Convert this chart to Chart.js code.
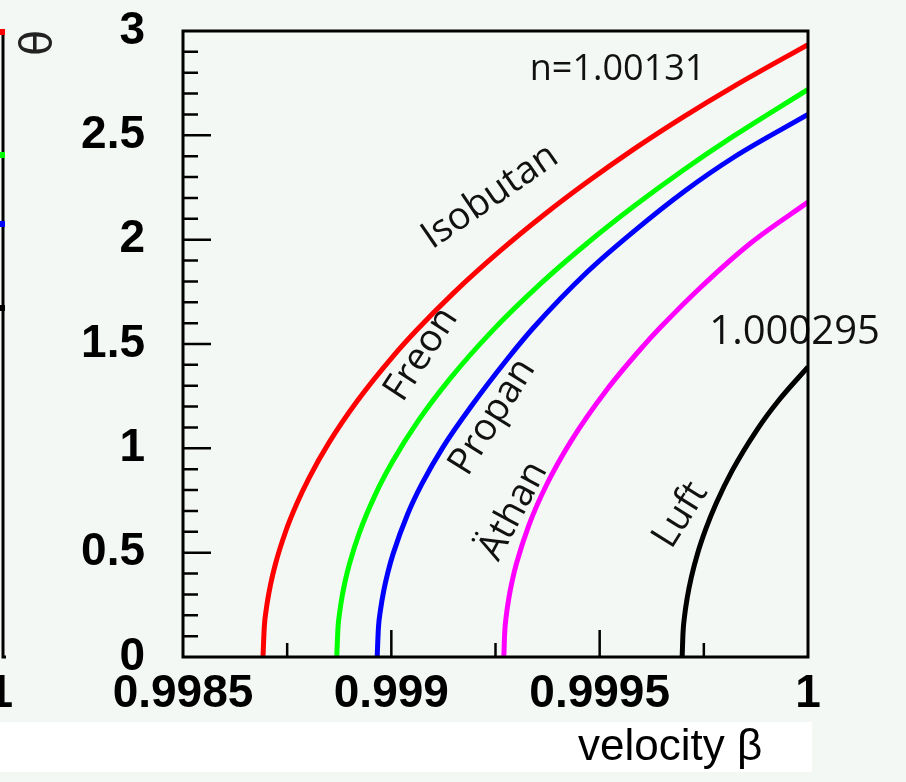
<!DOCTYPE html>
<html><head><meta charset="utf-8">
<script src="https://cdn.jsdelivr.net/npm/chart.js@4"></script>
<style>html,body{margin:0;padding:0;background:#f4f8f5;overflow:hidden}#wrap{width:906px;height:782px}</style>
</head><body><div id="wrap"><canvas id="c" width="906" height="782" style="width:906px;height:782px"></canvas></div>
<script>
// ---- data ----
const xTickValues = [0.9985, 0.999, 0.9995, 1];
const xTickLabels = ['0.9985', '0.999', '0.9995', '1'];
const yTickValues = [0, 0.5, 1, 1.5, 2, 2.5, 3];
const yTickLabels = ['0', '0.5', '1', '1.5', '2', '2.5', '3'];

const seriesNames = ['Isobutan', 'Freon', 'Propan', 'Äthan', 'Luft'];

const isobutanBeta  = [0.998692, 0.998695, 0.998700, 0.998710, 0.998722, 0.998747, 0.998773, 0.998803, 0.998850, 0.998919, 0.999004, 0.999061, 0.999149, 0.999261, 0.999365, 0.999470, 0.999582, 0.999702, 0.999822, 1.0];
const isobutanTheta = [0, 0.141, 0.231, 0.346, 0.447, 0.605, 0.734, 0.860, 1.026, 1.229, 1.441, 1.567, 1.744, 1.946, 2.117, 2.276, 2.434, 2.590, 2.735, 2.935];

const freonBeta  = [0.998869, 0.998872, 0.998876, 0.998882, 0.998890, 0.998900, 0.998923, 0.998961, 0.999004, 0.999064, 0.999141, 0.999245, 0.999357, 0.999470, 0.999582, 0.999702, 0.999822, 1.0];
const freonTheta = [0, 0.140, 0.214, 0.292, 0.371, 0.450, 0.594, 0.776, 0.940, 1.130, 1.334, 1.569, 1.787, 1.983, 2.160, 2.335, 2.497, 2.720];

const propanBeta  = [0.998966, 0.998969, 0.998974, 0.998982, 0.998992, 0.999004, 0.999039, 0.999073, 0.999124, 0.999193, 0.999278, 0.999341, 0.999470, 0.999582, 0.999702, 0.999822, 1.0];
const propanTheta = [0, 0.139, 0.226, 0.320, 0.408, 0.493, 0.684, 0.828, 1.006, 1.205, 1.427, 1.578, 1.845, 2.040, 2.230, 2.395, 2.600];

const athanBeta  = [0.999270, 0.999272, 0.999276, 0.999282, 0.999290, 0.999300, 0.999330, 0.999372, 0.999432, 0.999518, 0.999604, 0.999646, 0.999742, 0.999862, 1.0];
const athanTheta = [0, 0.115, 0.200, 0.282, 0.364, 0.446, 0.631, 0.823, 1.037, 1.283, 1.489, 1.580, 1.771, 1.983, 2.180];

const luftBeta  = [0.999698, 0.999700, 0.999704, 0.999710, 0.999720, 0.999735, 0.999755, 0.999780, 0.999818, 0.999878, 0.999929, 1.0];
const luftTheta = [0, 0.115, 0.200, 0.282, 0.382, 0.496, 0.615, 0.738, 0.893, 1.090, 1.228, 1.390];

const seriesColors = ['#ff0000', '#00ff00', '#0000ff', '#ff00ff', '#000000'];

// ---- build chart ----
function pts(bs, ts) { return bs.map((b, i) => ({x: b, y: ts[i]})); }
const allSeries = [
  pts(isobutanBeta, isobutanTheta),
  pts(freonBeta, freonTheta),
  pts(propanBeta, propanTheta),
  pts(athanBeta, athanTheta),
  pts(luftBeta, luftTheta)
];

const TICK_FONT = {family: 'Liberation Sans', size: 46, weight: 'bold'};
const ANNO_FONT = '38px "Open Sans"';

const refPlugin = {
  id: 'ref',
  beforeDraw(chart) {
    const ctx = chart.ctx;
    ctx.save();
    ctx.fillStyle = '#f4f8f5';
    ctx.fillRect(0, 0, chart.width, chart.height);
    ctx.fillStyle = '#ffffff';
    ctx.fillRect(0, 722, 812, 50);
    ctx.restore();
  },
  afterDatasetsDraw(chart) {
    const ctx = chart.ctx, a = chart.chartArea, xs = chart.scales.x, ys = chart.scales.y;
    ctx.save();
    // annotation texts
    ctx.fillStyle = '#111';
    ctx.textAlign = 'center';
    ctx.textBaseline = 'middle';
    function rot(text, bx, ty, deg, font) {
      ctx.save();
      ctx.translate(xs.getPixelForValue(bx), ys.getPixelForValue(ty));
      ctx.rotate(deg * Math.PI / 180);
      ctx.font = font;
      ctx.fillText(text, 0, 0);
      ctx.restore();
    }
    rot('n=1.00131', 0.999543, 2.813, 0, '36px "Open Sans"');
    rot(seriesNames[0], 0.999237, 2.206, -34.5, ANNO_FONT);
    rot(seriesNames[1], 0.999072, 1.450, -57, ANNO_FONT);
    rot(seriesNames[2], 0.999243, 1.150, -58, ANNO_FONT);
    rot(seriesNames[3], 0.999293, 0.700, -62, ANNO_FONT);
    rot(seriesNames[4], 0.999694, 0.680, -58, ANNO_FONT);
    rot('1.000295', 0.999968, 1.553, 0, '40px "Open Sans"');

    // inward tick marks
    ctx.strokeStyle = '#000';
    ctx.lineWidth = 2.5;
    ctx.beginPath();
    for (let k = 1; k < 6; k++) {
      const px = xs.getPixelForValue(0.9985 + k * 0.00025);
      const len = (k % 2 === 0) ? 27 : 14;
      ctx.moveTo(px, a.bottom); ctx.lineTo(px, a.bottom - len);
    }
    for (let k = 1; k < 30; k++) {
      const py = ys.getPixelForValue(k * 0.1);
      const len = (k % 5 === 0) ? 28 : 15;
      ctx.moveTo(a.left, py); ctx.lineTo(a.left + len, py);
    }
    ctx.stroke();
    // frame
    ctx.lineWidth = 3;
    ctx.strokeRect(a.left, a.top, a.right - a.left, a.bottom - a.top);

    // cut-off neighbouring panel on the left
    ctx.lineWidth = 3;
    ctx.beginPath(); ctx.moveTo(3, 30); ctx.lineTo(3, 657); ctx.lineTo(6, 657); ctx.stroke();
    const dots = [[32, '#ff0000'], [155, '#00ff00'], [224, '#0000ff'], [308, '#000000']];
    dots.forEach(d => { ctx.fillStyle = d[1]; ctx.fillRect(0, d[0] - 3, 5, 6); });
    ctx.fillStyle = '#000';
    ctx.font = 'bold 46px "Liberation Sans"';
    ctx.textAlign = 'right';
    ctx.textBaseline = 'middle';
    ctx.fillText('1', 13, 694);

    // rotated axis title theta
    ctx.save();
    ctx.translate(40, 43);
    ctx.rotate(-Math.PI / 2);
    ctx.font = '42px "DejaVu Sans"';
    ctx.textAlign = 'center';
    ctx.fillStyle = '#222';
    ctx.fillText('θ', 0, 0);
    ctx.restore();

    // x axis title
    ctx.font = '44px "Liberation Sans"';
    ctx.textAlign = 'left';
    ctx.textBaseline = 'alphabetic';
    ctx.fillStyle = '#000';
    ctx.fillText('velocity β', 578, 760);
    ctx.restore();
  }
};

new Chart(document.getElementById('c'), {
  type: 'line',
  data: {
    datasets: allSeries.map((d, i) => ({
      label: seriesNames[i],
      data: d,
      borderColor: seriesColors[i],
      backgroundColor: seriesColors[i],
      borderWidth: 5,
      pointRadius: 0,
      fill: false,
      cubicInterpolationMode: 'monotone'
    }))
  },
  options: {
    responsive: false,
    animation: false,
    devicePixelRatio: 1,
    layout: {padding: {left: 0, top: 31, right: 98, bottom: 0}},
    plugins: {legend: {display: false}, tooltip: {enabled: false}},
    scales: {
      x: {
        type: 'linear', min: 0.9985, max: 1,
        afterBuildTicks: s => { s.ticks = xTickValues.map(v => ({value: v})); },
        afterFit: s => { s.height = 125; s.paddingLeft = 0; s.paddingRight = 0; },
        grid: {display: false, drawTicks: false},
        border: {display: false},
        ticks: {
          callback: (v, i) => xTickLabels[i],
          font: TICK_FONT, color: '#000', padding: 10,
          maxRotation: 0, minRotation: 0, autoSkip: false
        }
      },
      y: {
        type: 'linear', min: 0, max: 3,
        afterBuildTicks: s => { s.ticks = yTickValues.map(v => ({value: v})); },
        afterFit: s => { s.width = 183; s.paddingTop = 0; s.paddingBottom = 0; },
        grid: {display: false, drawTicks: false},
        border: {display: false},
        ticks: {
          callback: (v, i) => yTickLabels[i],
          font: TICK_FONT, color: '#000', padding: 38, autoSkip: false
        }
      }
    }
  },
  plugins: [refPlugin]
});
</script>
</body></html>
